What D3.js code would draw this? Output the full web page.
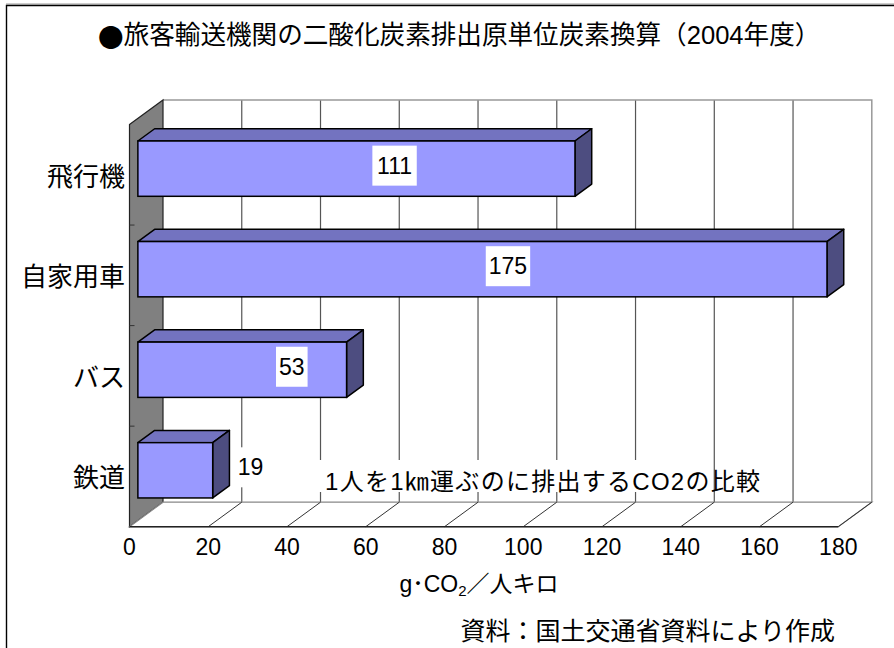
<!DOCTYPE html>
<html>
<head>
<meta charset="utf-8">
<script src="https://cdn.jsdelivr.net/npm/d3@7"></script>
<style>
  body { margin: 0; background: #fff; }
  svg text { font-family: "Liberation Sans", "Noto Sans CJK JP", sans-serif; fill: #000; }
</style>
</head>
<body>
<svg id="chart" width="894" height="648"></svg>
<script>
/* ------------------------- DATA ------------------------- */
const title = "旅客輸送機関の二酸化炭素排出原単位炭素換算（2004年度）"
const categories = ["飛行機", "自家用車", "バス", "鉄道"]
const values = [111, 175, 53, 19]
const xTicks = [0, 20, 40, 60, 80, 100, 120, 140, 160, 180]
const note = "1人を1㎞運ぶのに排出するCO2の比較"
const source = "資料：国土交通省資料により作成"

/* ------------------------- SETUP ------------------------- */
let svg = d3.select("#chart")

// front plane scales, depth is added as an oblique offset
let x = d3.scaleLinear().domain([0, 180]).range([129.5, 838.3])
let y = d3.scaleBand().domain(categories).range([124.5, 526.7])
    .paddingInner(0.45).paddingOuter(0.225)

const DX = 33.5, DY = -24.5       // full wall depth
function px(v, f) { return x(v) + DX * f }
function py(v, f) { return v + DY * f }

let yTop = y.range()[0], yBot = y.range()[1]

// outer frame (cropped on right/bottom)
svg.append("line").attr("x1", 6).attr("x2", 894).attr("y1", 4).attr("y2", 4)
    .attr("stroke", "#999").attr("stroke-width", 1)
svg.append("path").attr("d", "M6.5,648 L6.5,5.5 L894,5.5")
    .attr("fill", "none").attr("stroke", "#000").attr("stroke-width", 1.4)

// title
let tt = svg.append("text").attr("x", 98).attr("y", 35)
    .attr("dominant-baseline", "central")
    .style("font-size", "25.6px")
tt.append("tspan").style("font-family", "'Noto Sans CJK JP'").text("●")
tt.append("tspan").text(title)

/* --------------------- WALLS & FLOOR --------------------- */
let walls = svg.append("g").attr("class", "walls")

// back wall
walls.append("rect")
    .attr("x", px(0, 1)).attr("y", py(yTop, 1))
    .attr("width", x(180) - x(0)).attr("height", yBot - yTop)
    .attr("fill", "#fff")

walls.selectAll("line.grid")
    .data(xTicks.slice(1, -1))
    .enter().append("line")
    .attr("class", "grid")
    .attr("x1", d => px(d, 1)).attr("x2", d => px(d, 1))
    .attr("y1", py(yTop, 1)).attr("y2", py(yBot, 1))
    .attr("stroke", "#555").attr("stroke-width", 1.2)

walls.append("path")
    .attr("d", `M${px(0, 1)},${py(yTop, 1)} L${px(180, 1)},${py(yTop, 1)} L${px(180, 1)},${py(yBot, 1)}`)
    .attr("fill", "none").attr("stroke", "#999").attr("stroke-width", 1.5)

// left wall (gray)
walls.append("path")
    .attr("d", `M${px(0, 0)},${yTop} L${px(0, 1)},${py(yTop, 1)} L${px(0, 1)},${py(yBot, 1)} L${px(0, 0)},${yBot} Z`)
    .attr("fill", "#808080").attr("stroke", "#222").attr("stroke-width", 1.2)

// floor
walls.append("path")
    .attr("d", `M${px(0, 0)},${yBot} L${px(0, 1)},${py(yBot, 1)} L${px(180, 1)},${py(yBot, 1)} L${px(180, 0)},${yBot} Z`)
    .attr("fill", "#fff").attr("stroke", "#888").attr("stroke-width", 1.2)

walls.selectAll("line.floor")
    .data(xTicks.slice(1))
    .enter().append("line")
    .attr("class", "floor")
    .attr("x1", d => px(d, 0)).attr("y1", yBot)
    .attr("x2", d => px(d, 1)).attr("y2", py(yBot, 1))
    .attr("stroke", "#333").attr("stroke-width", 1)

// front axis line
walls.append("line")
    .attr("x1", x(0)).attr("x2", x(180)).attr("y1", yBot).attr("y2", yBot)
    .attr("stroke", "#222").attr("stroke-width", 1.5)

// category ticks on the left edge
walls.selectAll("line.ytick")
    .data(d3.range(1, categories.length))
    .enter().append("line")
    .attr("class", "ytick")
    .attr("x1", x(0)).attr("x2", x(0) + 5)
    .attr("y1", i => yTop + y.step() * i).attr("y2", i => yTop + y.step() * i)
    .attr("stroke", "#333").attr("stroke-width", 1)

/* --------------------- NOTE BOX --------------------- */
svg.append("rect").attr("x", 317).attr("y", 460).attr("width", 394).attr("height", 32).attr("fill", "#fff")
svg.append("text").attr("x", 325).attr("y", 481)
    .attr("dominant-baseline", "central")
    .attr("textLength", 435).attr("lengthAdjust", "spacing")
    .style("font-size", "24px").text(note)

/* --------------------- BARS --------------------- */
const F0 = 0.25, F1 = 0.75     // bar sits in middle of the depth
let data = categories.map((c, i) => ({ cat: c, value: values[i] }))

let bars = svg.append("g").attr("class", "bars")
    .selectAll("g")
    .data(data)
    .enter().append("g")

function poly(pts) { return "M" + pts.map(p => p.join(",")).join("L") + "Z" }

bars.append("path")   // top face
    .attr("d", d => {
        let t = y(d.cat)
        return poly([[px(0, F0), py(t, F0)], [px(d.value, F0), py(t, F0)], [px(d.value, F1), py(t, F1)], [px(0, F1), py(t, F1)]])
    })
    .attr("fill", "#7373C0").attr("stroke", "#000").attr("stroke-width", 1.5).attr("stroke-linejoin", "round")

bars.append("path")   // side face
    .attr("d", d => {
        let t = y(d.cat), b = t + y.bandwidth()
        return poly([[px(d.value, F0), py(t, F0)], [px(d.value, F1), py(t, F1)], [px(d.value, F1), py(b, F1)], [px(d.value, F0), py(b, F0)]])
    })
    .attr("fill", "#4D4D80").attr("stroke", "#000").attr("stroke-width", 1.5).attr("stroke-linejoin", "round")

bars.append("rect")   // front face
    .attr("x", px(0, F0))
    .attr("y", d => py(y(d.cat), F0))
    .attr("width", d => x(d.value) - x(0))
    .attr("height", y.bandwidth())
    .attr("fill", "#9999FF").attr("stroke", "#000").attr("stroke-width", 1.5)

/* --------------------- VALUE LABELS --------------------- */
function labelX(d) {
    let w = x(d.value) - x(0)
    if (w < 100) return px(d.value, F1) + 21
    return px(0, F0) + 0.45 * w + 60
}
function labelY(d) { return py(y(d.cat), F0) + y.bandwidth() / 2 - 3 }

bars.append("rect")
    .attr("x", d => labelX(d) - (String(d.value).length * 12.8 + 6) / 2)
    .attr("y", d => labelY(d) - 20)
    .attr("width", d => String(d.value).length * 12.8 + 6)
    .attr("height", 40)
    .attr("fill", "#fff")

bars.append("text")
    .attr("x", labelX).attr("y", labelY)
    .attr("text-anchor", "middle").attr("dominant-baseline", "central")
    .style("font-size", "23px")
    .text(d => d.value)

/* --------------------- AXIS LABELS --------------------- */
svg.append("g").selectAll("text")
    .data(categories)
    .enter().append("text")
    .attr("x", 125)
    .attr("y", d => y(d) + y.bandwidth() / 2 + 2)
    .attr("text-anchor", "end").attr("dominant-baseline", "central")
    .style("font-size", "26px")
    .text(d => d)

svg.append("g").selectAll("text")
    .data(xTicks)
    .enter().append("text")
    .attr("x", d => x(d))
    .attr("y", 547)
    .attr("text-anchor", "middle").attr("dominant-baseline", "central")
    .style("font-size", "23px")
    .text(d => d)

let xt = svg.append("text").attr("x", 479).attr("y", 584)
    .attr("text-anchor", "middle").attr("dominant-baseline", "central")
    .style("font-size", "23px")
xt.append("tspan").text("g･CO")
xt.append("tspan").attr("dy", 6).style("font-size", "15px").text("2")
xt.append("tspan").attr("dy", -6).text("／人キロ")

svg.append("text").attr("x", 835).attr("y", 631)
    .attr("text-anchor", "end").attr("dominant-baseline", "central")
    .style("font-size", "25px")
    .text(source)
</script>
</body>
</html>
